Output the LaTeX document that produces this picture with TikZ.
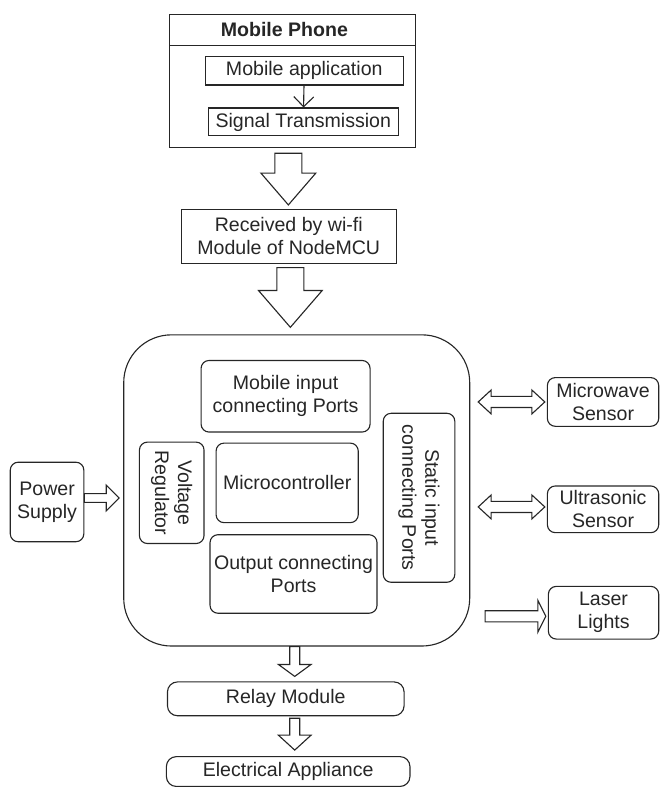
\documentclass[tikz,border=0pt]{standalone}
\usepackage{fontspec}
\setmainfont{Liberation Sans}
\usetikzlibrary{arrows.meta, positioning, calc}
\tikzstyle{box} = [rectangle, draw=black!85, text=black!85, text centered, align=center, inner sep=1pt]
\tikzstyle{rbox} = [box, rounded corners=2mm]
\tikzstyle{line} = [draw=black!85, -{Straight Barb[length=2.5mm, width=5mm]}]
\tikzstyle{hollow} = [draw=black!85, line join=miter]
% hollow block arrows: start, tip, half shaft, half head, head length
\newcommand{\hollowdown}[5]{%
  \draw[hollow] let \p1=(#1), \p2=(#2) in
    (\x1-#3,\y1) -- (\x1-#3,\y2+#5) -- (\x1-#4,\y2+#5) -- (\x1,\y2)
    -- (\x1+#4,\y2+#5) -- (\x1+#3,\y2+#5) -- (\x1+#3,\y1) -- cycle;}
\newcommand{\hollowright}[5]{%
  \draw[hollow] let \p1=(#1), \p2=(#2) in
    (\x1,\y1-#3) -- (\x2-#5,\y1-#3) -- (\x2-#5,\y1-#4) -- (\x2,\y1)
    -- (\x2-#5,\y1+#4) -- (\x2-#5,\y1+#3) -- (\x1,\y1+#3) -- cycle;}
\newcommand{\hollowboth}[5]{%
  \draw[hollow] let \p1=(#1), \p2=(#2) in
    (\x1,\y1) -- (\x1+#5,\y1+#4) -- (\x1+#5,\y1+#3) -- (\x2-#5,\y1+#3)
    -- (\x2-#5,\y1+#4) -- (\x2,\y1) -- (\x2-#5,\y1-#4) -- (\x2-#5,\y1-#3)
    -- (\x1+#5,\y1-#3) -- (\x1+#5,\y1-#4) -- cycle;}

\begin{document}
\begin{tikzpicture}[font=\fontsize{14}{16.5}\selectfont, line width=0.8pt]

    \node (phone) [box, minimum width=61.75mm, minimum height=33.5mm] {};
    \node (title) [text=black!85] at ($(phone.north)+(-2mm,-4mm)$) {\textbf{Mobile Phone}};
    \draw[black!85] ($(phone.north west)+(0,-8mm)$) -- ($(phone.north east)+(0,-8mm)$);
    \node (app) [box, below=10.5mm of phone.north, xshift=3mm, minimum width=49.75mm, minimum height=7.25mm] {Mobile application};
    \node (sig) [box, below=5.5mm of app, xshift=-0.25mm, minimum width=47.75mm, minimum height=7mm] {Signal Transmission};

    \node (recv) [box, below=15.25mm of phone, xshift=-0.9mm, minimum width=54mm, minimum height=13.5mm] {Received by wi-fi\\Module of NodeMCU};

    \node (big) [box, rounded corners=12mm, below=17.75mm of recv, xshift=2mm, minimum width=87mm, minimum height=78.25mm] {};
    \node (micro) [rbox, minimum width=35.75mm, minimum height=20mm] at ($(big.center)+(-2.4mm,1.9mm)$) {Microcontroller};
    \node (mobin) [rbox, above=2.5mm of micro, xshift=-0.4mm, minimum width=42.5mm, minimum height=18mm] {Mobile input\\connecting Ports};
    \node (outp) [rbox, below=2.75mm of micro, xshift=1.6mm, minimum width=42mm, minimum height=19.75mm] {Output connecting\\Ports};
    \node (volt) [rbox, rotate=-90, anchor=north, minimum width=25.5mm, minimum height=16.25mm] at ($(micro.west)+(-2.75mm,-2.5mm)$) {Voltage\\Regulator};
    \node (stat) [rbox, rotate=-90, anchor=south, minimum width=42.5mm, minimum height=18mm] at ($(micro.east)+(6mm,-3.75mm)$) {Static input\\connecting Ports};

    \node (power) [rbox, left=9.75mm of big, yshift=-2.9mm, minimum width=18.5mm, minimum height=20mm] {Power\\Supply};
    \node (micw) [rbox, right=19.25mm of big, yshift=22.25mm, minimum width=28mm, minimum height=12.25mm] {Microwave\\Sensor};
    \node (ultra) [rbox, right=19.25mm of big, yshift=-4.75mm, minimum width=28mm, minimum height=11.75mm] {Ultrasonic\\Sensor};
    \node (laser) [rbox, right=19.5mm of big, yshift=-30.75mm, minimum width=27.75mm, minimum height=13.25mm] {Laser\\Lights};

    \node (relay) [rbox, rounded corners=2.5mm, below=8.75mm of big, xshift=-2.75mm, minimum width=59.5mm, minimum height=8.5mm] {Relay Module};
    \node (elec) [rbox, rounded corners=2.5mm, below=10mm of relay, xshift=0.6mm, minimum width=61.25mm, minimum height=7.5mm] {Electrical Appliance};

    \path [line] (app) -- (sig);

    \hollowdown{$(phone.south)+(-1mm,-1.25mm)$}{$(recv.north)+(0,1mm)$}{3.4mm}{6.9mm}{8mm}
    \hollowdown{$(recv.south)+(0.4mm,-1mm)$}{$(big.north)+(0,1.75mm)$}{3.4mm}{8mm}{9.25mm}
    \hollowdown{$(big.south)+(-0.5mm,0)$}{$(relay.north)+(0,1.25mm)$}{1.25mm}{4.1mm}{3mm}
    \hollowdown{$(relay.south)+(2.25mm,-0.5mm)$}{$(elec.north)+(0,1.5mm)$}{1.25mm}{4.1mm}{3.75mm}
    \hollowright{$(power.east)+(0,1mm)$}{$(big.west)+(-1mm,0)$}{1.1mm}{3.25mm}{3.25mm}
    \hollowboth{$(big.east |- micw.west)+(2mm,0)$}{$(micw.west)+(-0.5mm,0)$}{1.4mm}{3mm}{3.25mm}
    \hollowboth{$(big.east |- ultra.west)+(2mm,0.6mm)$}{$(ultra.west)+(-0.5mm,0)$}{1.4mm}{3mm}{3.25mm}
    \hollowright{$(big.east |- laser.west)+(3.75mm,-0.9mm)$}{$(laser.west)+(-0.5mm,0)$}{1.4mm}{4mm}{2mm}

    \useasboundingbox ($(phone.north west)+(-42.5mm,3.5mm)$) rectangle ($(phone.north west)+(124.75mm,-193.25mm)$);
\end{tikzpicture}
\end{document}
